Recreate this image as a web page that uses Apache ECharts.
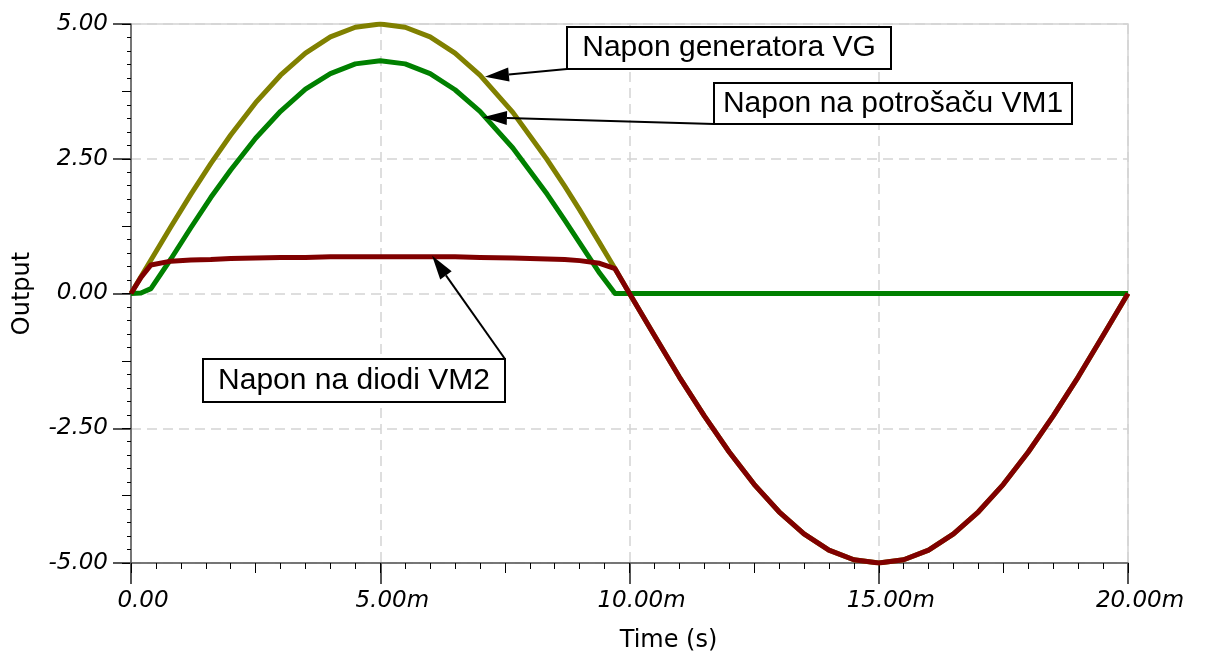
<!DOCTYPE html>
<html>
<head>
<meta charset="utf-8">
<script src="https://cdn.jsdelivr.net/npm/echarts@6/dist/echarts.min.js"></script>
<style>html,body{margin:0;padding:0;background:#fff;}#c{width:1213px;height:655px;}</style>
</head>
<body>
<div id="c"></div>
<script>
// time in ms
const times = [0,0.2,0.4,0.8,1.2,1.6,2.0,2.5,3.0,3.5,4.0,4.5,5.0,5.5,6.0,6.5,7.0,7.66,8.35,8.7,9.0,9.4,9.71,
  10.0,10.5,11,11.5,12,12.5,13,13.5,14,14.5,15,15.5,16,16.5,17,17.5,18,18.5,19,19.5,20];
const vg = [0,0.31,0.62,1.24,1.84,2.41,2.94,3.54,4.05,4.46,4.76,4.94,5.00,4.94,4.76,4.46,4.05,3.36,2.48,1.99,1.55,0.94,0.46,
  0,-0.78,-1.55,-2.27,-2.94,-3.54,-4.05,-4.46,-4.76,-4.94,-5.00,-4.94,-4.76,-4.46,-4.05,-3.54,-2.94,-2.27,-1.55,-0.78,0];
const vm1 = [0,0.01,0.09,0.64,1.22,1.78,2.29,2.88,3.38,3.79,4.08,4.26,4.32,4.26,4.08,3.78,3.38,2.70,1.84,1.36,0.94,0.38,0,
  0,0,0,0,0,0,0,0,0,0,0,0,0,0,0,0,0,0,0,0,0];
const vm2 = [0,0.30,0.53,0.60,0.62,0.63,0.65,0.66,0.67,0.67,0.68,0.68,0.68,0.68,0.68,0.68,0.67,0.66,0.64,0.63,0.61,0.56,0.46,
  0,-0.78,-1.55,-2.27,-2.94,-3.54,-4.05,-4.46,-4.76,-4.94,-5.00,-4.94,-4.76,-4.46,-4.05,-3.54,-2.94,-2.27,-1.55,-0.78,0];
const seriesNames = ['Napon generatora VG','Napon na potrošaču VM1','Napon na diodi VM2'];
const seriesColors = ['#808000','#008000','#800000'];
// annotations: arrow tip in data coords (ms, V), box in pixels
const annots = [
  {text:'Napon generatora VG', tip:[7.1,4.02], box:[567,27,324,42], from:'bl'},
  {text:'Napon na potrošaču VM1', tip:[7.06,3.27], box:[714,83,358,41], from:'bl'},
  {text:'Napon na diodi VM2', tip:[6.04,0.70], box:[203,359,302,43], from:'tr'}
];

const chart = echarts.init(document.getElementById('c'), null, {renderer:'canvas'});
const tickFont = {fontFamily:'DejaVu Sans', fontStyle:'italic', fontSize:23, color:'#000'};
function pairs(v){ return times.map((t,i)=>[t,v[i]]); }

function xAx(interval, len, main){
  return {
    type:'value', min:0, max:20, interval:interval, position:'bottom', gridIndex:0,
    name: main ? 'Time (s)' : '', nameLocation:'middle', nameGap:66,
    nameTextStyle:{fontFamily:'DejaVu Sans', fontSize:24, color:'#000', padding:[0,0,0,78]},
    axisLine:{show:main, onZero:false, lineStyle:{color:'#555', width:1.5}},
    axisTick:{show:true, length:len, lineStyle:{color: main ? '#555' : '#000', width: main?2:1}},
    axisLabel:{show:main, margin:27, ...tickFont, padding:[0,0,0,24],
      formatter:v => v===0 ? '0.00' : v.toFixed(2)+'m'},
    splitLine:{show:main, lineStyle:{color:'#d3d3d3', width:1.5, type:[10,6]}},
    minorTick:{show:false}, minorSplitLine:{show:false}
  };
}
function yAx(interval, len, main){
  return {
    type:'value', min:-5, max:5, interval:interval, position:'left', gridIndex:0,
    name: main ? 'Output' : '', nameLocation:'middle', nameGap:96, nameRotate:90,
    nameTextStyle:{fontFamily:'DejaVu Sans', fontSize:24, color:'#000'},
    axisLine:{show:main, onZero:false, lineStyle:{color:'#555', width:1.5}},
    axisTick:{show:true, length:len, lineStyle:{color: main ? '#555' : '#000', width: main?2:1}},
    axisLabel:{show:main, margin:23, ...tickFont, padding:[0,0,6,0], formatter:v => v.toFixed(2)},
    splitLine:{show:main, lineStyle:{color:'#d3d3d3', width:1.5, type:[10,6]}}
  };
}

chart.setOption({
  animation:false,
  backgroundColor:'#fff',
  grid:{left:131, right:85, top:24, bottom:92, show:true, borderColor:'#d3d3d3', borderWidth:1.5, outerBoundsMode:'none', containLabel:false},
  xAxis:[xAx(5,21,true), xAx(2.5,10,false), xAx(0.5,6,false)],
  yAxis:[yAx(2.5,18,true), yAx(1.25,9,false), yAx(0.25,4,false)],
  series:[vg,vm1,vm2].map((v,i)=>({
    name:seriesNames[i], type:'line', xAxisIndex:0, yAxisIndex:0,
    data:pairs(v), showSymbol:false, symbol:'none',
    lineStyle:{color:seriesColors[i], width:5, join:'round'},
    z: 2+i
  }))
});

const g = [];
annots.forEach(a=>{
  const [bx,by,bw,bh] = a.box;
  const tip = chart.convertToPixel({xAxisIndex:0, yAxisIndex:0}, a.tip);
  const start = a.from==='bl' ? [bx, by+bh] : [bx+bw, by];
  const dx = start[0]-tip[0], dy = start[1]-tip[1];
  const L = Math.hypot(dx,dy), ux = dx/L, uy = dy/L;
  const hl = 24, hw = 7;
  const base = [tip[0]+ux*hl, tip[1]+uy*hl];
  g.push({type:'line', shape:{x1:start[0], y1:start[1], x2:base[0], y2:base[1]}, style:{stroke:'#000', lineWidth:2}, z:10});
  g.push({type:'polygon', shape:{points:[tip, [base[0]-uy*hw, base[1]+ux*hw], [base[0]+uy*hw, base[1]-ux*hw]]}, style:{fill:'#000'}, z:10});
  g.push({type:'rect', shape:{x:bx, y:by, width:bw, height:bh}, style:{fill:'#fff', stroke:'#000', lineWidth:2}, z:11});
  g.push({type:'text', x:bx+bw/2, y:by+bh/2, style:{text:a.text, fontFamily:'Liberation Sans', fontSize:30, fill:'#000', align:'center', verticalAlign:'middle'}, z:12});
});
chart.setOption({graphic:g});
</script>
</body>
</html>
